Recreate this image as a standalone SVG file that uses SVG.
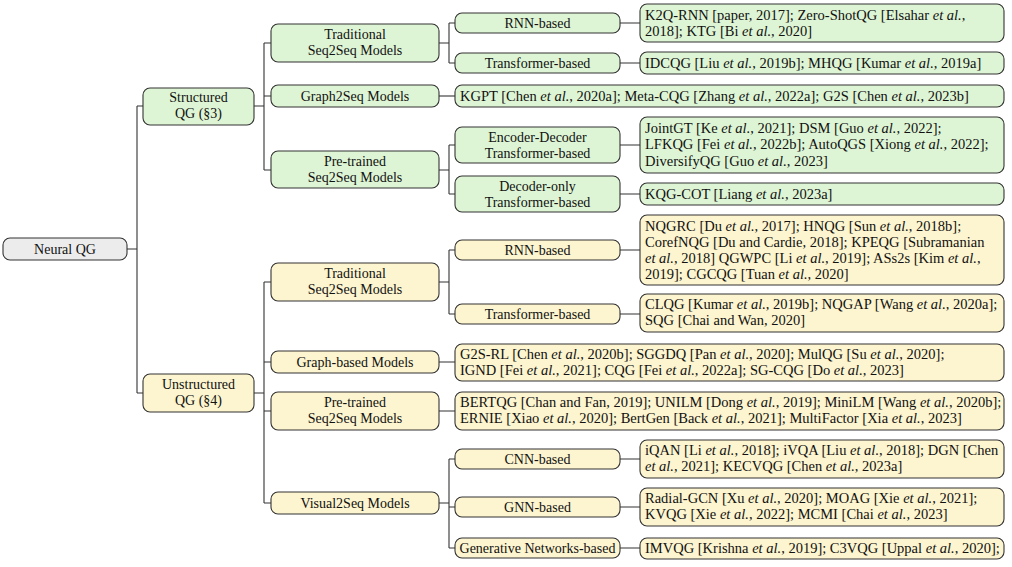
<svg xmlns="http://www.w3.org/2000/svg" width="1012" height="567" viewBox="0 0 1012 567" font-family="Liberation Serif, DejaVu Serif, serif">
<style>
rect{stroke:#333;stroke-width:1.1}
.g{fill:#def5d5}
.y{fill:#fdf5cf}
.r{fill:#ececec}
text{font-family:'Liberation Serif','DejaVu Serif',serif;font-size:14px;fill:#111}
.l{font-size:14.5px}
.c{text-anchor:middle}
.i{font-style:italic}
#connectors path{stroke:#333;stroke-width:1.1;fill:none}
</style>
<rect width="1012" height="567" fill="#fff" style="stroke:none"/>
<g id="connectors">
<path d="M127,249H137M137,106V393M137,106H143M137,393H143"/>
<path d="M254,106H264M264,43V170M264,43H271M264,96H271M264,170H271"/>
<path d="M439,43H449M449,23V63M449,23H455M449,63H455M620,23H640M620,63H640"/>
<path d="M439,96H455"/>
<path d="M439,170H449M449,145V194M449,145H455M449,194H455M620,145H640M620,194H640"/>
<path d="M254,393H264M264,282V503M264,282H271M264,362H271M264,411H271M264,503H271"/>
<path d="M439,282H449M449,250V314M449,250H455M449,314H455M620,250H640M620,314H640"/>
<path d="M439,362H455M439,411H455"/>
<path d="M439,503H449M449,459V548M449,459H455M449,507H455M449,548H455M620,459H640M620,507H640M620,548H640"/>
</g>
<g id="n-root"><rect class="r" x="3" y="238" width="124" height="22" rx="7"/><text class="c" x="65" y="253.5">Neural QG</text></g>
<g id="n-structured"><rect class="g" x="143" y="88" width="111" height="37" rx="7"/><text class="c" x="198.5" y="102">Structured</text><text class="c" x="198.5" y="118">QG (§3)</text></g>
<g id="n-unstructured"><rect class="y" x="143" y="374" width="111" height="38" rx="7"/><text class="c" x="198.5" y="388.5">Unstructured</text><text class="c" x="198.5" y="404.5">QG (§4)</text></g>

<g id="n-s-trad"><rect class="g" x="271" y="24" width="168" height="38" rx="7"/><text class="c" x="355" y="38.5">Traditional</text><text class="c" x="355" y="54.5">Seq2Seq Models</text></g>
<g id="n-s-graph"><rect class="g" x="271" y="85" width="168" height="22" rx="7"/><text class="c" x="355" y="100.5">Graph2Seq Models</text></g>
<g id="n-s-pre"><rect class="g" x="271" y="151" width="168" height="37" rx="7"/><text class="c" x="355" y="165.5">Pre-trained</text><text class="c" x="355" y="181.5">Seq2Seq Models</text></g>

<g id="n-s-rnn"><rect class="g" x="455" y="13" width="165" height="20" rx="7"/><text class="c" x="537.5" y="27.5">RNN-based</text></g>
<g id="n-s-trans"><rect class="g" x="455" y="53" width="165" height="20" rx="7"/><text class="c" x="537.5" y="67.5">Transformer-based</text></g>
<g id="n-s-encdec"><rect class="g" x="455" y="127" width="165" height="36" rx="7"/><text class="c" x="537.5" y="141.5">Encoder-Decoder</text><text class="c" x="537.5" y="157.5">Transformer-based</text></g>
<g id="n-s-deconly"><rect class="g" x="455" y="176" width="165" height="36" rx="7"/><text class="c" x="537.5" y="190.5">Decoder-only</text><text class="c" x="537.5" y="206.5">Transformer-based</text></g>

<g id="l-s-rnn" class="l"><rect class="g" x="640" y="4" width="364" height="38" rx="7"/><text class="l" x="645" y="19.5">K2Q-RNN [paper, 2017]; Zero-ShotQG [Elsahar <tspan class="i">et al.</tspan>,</text><text class="l" x="645" y="35.5">2018]; KTG [Bi <tspan class="i">et al.</tspan>, 2020]</text></g>
<g id="l-s-trans"><rect class="g" x="640" y="52" width="364" height="22" rx="7"/><text class="l" x="645" y="67.5">IDCQG [Liu <tspan class="i">et al.</tspan>, 2019b]; MHQG [Kumar <tspan class="i">et al.</tspan>, 2019a]</text></g>
<g id="l-s-graph"><rect class="g" x="455" y="85" width="549" height="22" rx="7"/><text class="l" x="460" y="100.5">KGPT [Chen <tspan class="i">et al.</tspan>, 2020a]; Meta-CQG [Zhang <tspan class="i">et al.</tspan>, 2022a]; G2S [Chen <tspan class="i">et al.</tspan>, 2023b]</text></g>
<g id="l-s-encdec"><rect class="g" x="640" y="117" width="364" height="56" rx="7"/><text class="l" x="645" y="132.5">JointGT [Ke <tspan class="i">et al.</tspan>, 2021]; DSM [Guo <tspan class="i">et al.</tspan>, 2022];</text><text class="l" x="645" y="149">LFKQG [Fei <tspan class="i">et al.</tspan>, 2022b]; AutoQGS [Xiong <tspan class="i">et al.</tspan>, 2022];</text><text class="l" x="645" y="165.5">DiversifyQG [Guo <tspan class="i">et al.</tspan>, 2023]</text></g>
<g id="l-s-deconly"><rect class="g" x="640" y="183" width="364" height="22" rx="7"/><text class="l" x="645" y="198.5">KQG-COT [Liang <tspan class="i">et al.</tspan>, 2023a]</text></g>

<g id="n-u-trad"><rect class="y" x="271" y="263" width="168" height="38" rx="7"/><text class="c" x="355" y="277.5">Traditional</text><text class="c" x="355" y="293.5">Seq2Seq Models</text></g>
<g id="n-u-graph"><rect class="y" x="271" y="351" width="168" height="22" rx="7"/><text class="c" x="355" y="366.5">Graph-based Models</text></g>
<g id="n-u-pre"><rect class="y" x="271" y="392" width="168" height="38" rx="7"/><text class="c" x="355" y="406.5">Pre-trained</text><text class="c" x="355" y="422.5">Seq2Seq Models</text></g>
<g id="n-u-visual"><rect class="y" x="271" y="492" width="168" height="22" rx="7"/><text class="c" x="355" y="507.5">Visual2Seq Models</text></g>

<g id="n-u-rnn"><rect class="y" x="455" y="240" width="165" height="20" rx="7"/><text class="c" x="537.5" y="254.5">RNN-based</text></g>
<g id="n-u-trans"><rect class="y" x="455" y="304" width="165" height="20" rx="7"/><text class="c" x="537.5" y="318.5">Transformer-based</text></g>
<g id="n-u-cnn"><rect class="y" x="455" y="449" width="165" height="20" rx="7"/><text class="c" x="537.5" y="463.5">CNN-based</text></g>
<g id="n-u-gnn"><rect class="y" x="455" y="497" width="165" height="20" rx="7"/><text class="c" x="537.5" y="511.5">GNN-based</text></g>
<g id="n-u-gen"><rect class="y" x="455" y="538" width="165" height="20" rx="7"/><text class="c" x="537.5" y="552.5">Generative Networks-based</text></g>

<g id="l-u-rnn"><rect class="y" x="640" y="215" width="364" height="70" rx="7"/><text class="l" x="645" y="231">NQGRC [Du <tspan class="i">et al.</tspan>, 2017]; HNQG [Sun <tspan class="i">et al.</tspan>, 2018b];</text><text class="l" x="645" y="247">CorefNQG [Du and Cardie, 2018]; KPEQG [Subramanian</text><text class="l" x="645" y="263"><tspan class="i">et al.</tspan>, 2018] QGWPC [Li <tspan class="i">et al.</tspan>, 2019]; ASs2s [Kim <tspan class="i">et al.</tspan>,</text><text class="l" x="645" y="279">2019]; CGCQG [Tuan <tspan class="i">et al.</tspan>, 2020]</text></g>
<g id="l-u-trans"><rect class="y" x="640" y="294" width="364" height="38" rx="7"/><text class="l" x="645" y="309">CLQG [Kumar <tspan class="i">et al.</tspan>, 2019b]; NQGAP [Wang <tspan class="i">et al.</tspan>, 2020a];</text><text class="l" x="645" y="325">SQG [Chai and Wan, 2020]</text></g>
<g id="l-u-graph"><rect class="y" x="455" y="344" width="549" height="37" rx="7"/><text class="l" x="460" y="358.5">G2S-RL [Chen <tspan class="i">et al.</tspan>, 2020b]; SGGDQ [Pan <tspan class="i">et al.</tspan>, 2020]; MulQG [Su <tspan class="i">et al.</tspan>, 2020];</text><text class="l" x="460" y="374.5">IGND [Fei <tspan class="i">et al.</tspan>, 2021]; CQG [Fei <tspan class="i">et al.</tspan>, 2022a]; SG-CQG [Do <tspan class="i">et al.</tspan>, 2023]</text></g>
<g id="l-u-pre"><rect class="y" x="455" y="392" width="549" height="38" rx="7"/><text class="l" x="460" y="406.5">BERTQG [Chan and Fan, 2019]; UNILM [Dong <tspan class="i">et al.</tspan>, 2019]; MiniLM [Wang <tspan class="i">et al.</tspan>, 2020b];</text><text class="l" x="460" y="422.5">ERNIE [Xiao <tspan class="i">et al.</tspan>, 2020]; BertGen [Back <tspan class="i">et al.</tspan>, 2021]; MultiFactor [Xia <tspan class="i">et al.</tspan>, 2023]</text></g>
<g id="l-u-cnn"><rect class="y" x="640" y="440" width="364" height="38" rx="7"/><text class="l" x="645" y="455">iQAN [Li <tspan class="i">et al.</tspan>, 2018]; iVQA [Liu <tspan class="i">et al.</tspan>, 2018]; DGN [Chen</text><text class="l" x="645" y="471"><tspan class="i">et al.</tspan>, 2021]; KECVQG [Chen <tspan class="i">et al.</tspan>, 2023a]</text></g>
<g id="l-u-gnn"><rect class="y" x="640" y="488" width="364" height="38" rx="7"/><text class="l" x="645" y="503">Radial-GCN [Xu <tspan class="i">et al.</tspan>, 2020]; MOAG [Xie <tspan class="i">et al.</tspan>, 2021];</text><text class="l" x="645" y="519">KVQG [Xie <tspan class="i">et al.</tspan>, 2022]; MCMI [Chai <tspan class="i">et al.</tspan>, 2023]</text></g>
<g id="l-u-gen"><rect class="y" x="640" y="538" width="364" height="21" rx="7"/><text class="l" x="645" y="552.5">IMVQG [Krishna <tspan class="i">et al.</tspan>, 2019]; C3VQG [Uppal <tspan class="i">et al.</tspan>, 2020];</text></g>
</svg>
